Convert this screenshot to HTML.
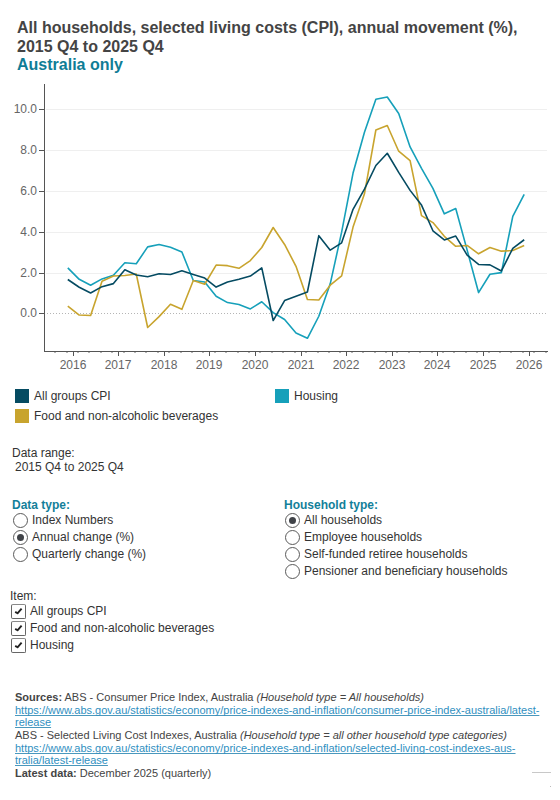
<!DOCTYPE html>
<html><head><meta charset="utf-8">
<style>
*{margin:0;padding:0;box-sizing:border-box}
html,body{width:560px;height:800px;background:#fff;overflow:hidden}
body{position:relative;font-family:"Liberation Sans",sans-serif;color:#333}
.a{position:absolute;white-space:nowrap}
.chart{position:absolute;left:0;top:0}
.t16{font-size:16px;line-height:18.2px;font-weight:bold}
.t12{font-size:12px;line-height:14px}
.t11{font-size:11px;line-height:12.66px}
.sw{position:absolute;width:14px;height:14px}
.rad{position:absolute;width:15px;height:15px;border:1.3px solid #5a5a5a;border-radius:50%;background:#fff}
.rad.on::after{content:"";position:absolute;left:2.7px;top:2.7px;width:7px;height:7px;border-radius:50%;background:#404348}
.cb{position:absolute;width:14.8px;height:14.3px;border:1.4px solid #666;border-top:1.8px solid #8a8a8a;border-radius:2px;background:#fff}
.cb svg{position:absolute;left:0;top:0}
.lnk{color:#2f8fbf;text-decoration:underline;text-decoration-skip-ink:none;text-decoration-color:#4a98bd;margin-left:-1px;padding-left:1px}
.teal{color:#137f9a;font-weight:bold}
</style></head><body>
<div class="a t16" style="left:17px;top:17.8px;line-height:19px;color:#444">All households, selected living costs (CPI), annual movement (%),<br>2015 Q4 to 2025 Q4</div>
<div class="a t16" style="left:17px;top:56px;color:#0f7d96">Australia only</div>
<svg class="chart" width="560" height="380" viewBox="0 0 560 380"><g class="ax" font-family="Liberation Sans, sans-serif" font-size="12" fill="#555"><rect x="46" y="273" width="501" height="1" fill="#efefef"/><rect x="46" y="232" width="501" height="1" fill="#efefef"/><rect x="46" y="191" width="501" height="1" fill="#efefef"/><rect x="46" y="150" width="501" height="1" fill="#efefef"/><rect x="46" y="109" width="501" height="1" fill="#efefef"/><line x1="47" y1="313.5" x2="547" y2="313.5" stroke="#b5b5b5" stroke-width="1" stroke-dasharray="1 2"/><rect x="44" y="84" width="1" height="268" fill="#555"/><rect x="39" y="313" width="5" height="1" fill="#555"/><text x="37" y="316.6" text-anchor="end" fill="#666">0.0</text><rect x="39" y="273" width="5" height="1" fill="#555"/><text x="37" y="276.6" text-anchor="end" fill="#666">2.0</text><rect x="39" y="232" width="5" height="1" fill="#555"/><text x="37" y="235.6" text-anchor="end" fill="#666">4.0</text><rect x="39" y="191" width="5" height="1" fill="#555"/><text x="37" y="194.6" text-anchor="end" fill="#666">6.0</text><rect x="39" y="150" width="5" height="1" fill="#555"/><text x="37" y="153.6" text-anchor="end" fill="#666">8.0</text><rect x="39" y="109" width="5" height="1" fill="#555"/><text x="37" y="112.6" text-anchor="end" fill="#666">10.0</text><rect x="44" y="351" width="504" height="1" fill="#555"/><rect x="73" y="352" width="1" height="4" fill="#555"/><text x="73.0" y="369" text-anchor="middle" fill="#666">2016</text><rect x="118" y="352" width="1" height="4" fill="#555"/><text x="118.0" y="369" text-anchor="middle" fill="#666">2017</text><rect x="164" y="352" width="1" height="4" fill="#555"/><text x="164.0" y="369" text-anchor="middle" fill="#666">2018</text><rect x="209" y="352" width="1" height="4" fill="#555"/><text x="209.0" y="369" text-anchor="middle" fill="#666">2019</text><rect x="255" y="352" width="1" height="4" fill="#555"/><text x="255.0" y="369" text-anchor="middle" fill="#666">2020</text><rect x="301" y="352" width="1" height="4" fill="#555"/><text x="301.0" y="369" text-anchor="middle" fill="#666">2021</text><rect x="346" y="352" width="1" height="4" fill="#555"/><text x="346.0" y="369" text-anchor="middle" fill="#666">2022</text><rect x="392" y="352" width="1" height="4" fill="#555"/><text x="392.0" y="369" text-anchor="middle" fill="#666">2023</text><rect x="437" y="352" width="1" height="4" fill="#555"/><text x="437.0" y="369" text-anchor="middle" fill="#666">2024</text><rect x="483" y="352" width="1" height="4" fill="#555"/><text x="483.0" y="369" text-anchor="middle" fill="#666">2025</text><rect x="529" y="352" width="1" height="4" fill="#555"/><text x="529.0" y="369" text-anchor="middle" fill="#666">2026</text><rect x="54" y="352" width="2" height="1" fill="#b4b4b4"/><rect x="66" y="352" width="2" height="1" fill="#b4b4b4"/><rect x="77" y="352" width="2" height="1" fill="#b4b4b4"/><rect x="88" y="352" width="2" height="1" fill="#b4b4b4"/><rect x="100" y="352" width="2" height="1" fill="#b4b4b4"/><rect x="111" y="352" width="2" height="1" fill="#b4b4b4"/><rect x="123" y="352" width="2" height="1" fill="#b4b4b4"/><rect x="134" y="352" width="2" height="1" fill="#b4b4b4"/><rect x="145" y="352" width="2" height="1" fill="#b4b4b4"/><rect x="157" y="352" width="2" height="1" fill="#b4b4b4"/><rect x="168" y="352" width="2" height="1" fill="#b4b4b4"/><rect x="180" y="352" width="2" height="1" fill="#b4b4b4"/><rect x="191" y="352" width="2" height="1" fill="#b4b4b4"/><rect x="202" y="352" width="2" height="1" fill="#b4b4b4"/><rect x="214" y="352" width="2" height="1" fill="#b4b4b4"/><rect x="225" y="352" width="2" height="1" fill="#b4b4b4"/><rect x="237" y="352" width="2" height="1" fill="#b4b4b4"/><rect x="248" y="352" width="2" height="1" fill="#b4b4b4"/><rect x="259" y="352" width="2" height="1" fill="#b4b4b4"/><rect x="271" y="352" width="2" height="1" fill="#b4b4b4"/><rect x="282" y="352" width="2" height="1" fill="#b4b4b4"/><rect x="294" y="352" width="2" height="1" fill="#b4b4b4"/><rect x="305" y="352" width="2" height="1" fill="#b4b4b4"/><rect x="317" y="352" width="2" height="1" fill="#b4b4b4"/><rect x="328" y="352" width="2" height="1" fill="#b4b4b4"/><rect x="339" y="352" width="2" height="1" fill="#b4b4b4"/><rect x="351" y="352" width="2" height="1" fill="#b4b4b4"/><rect x="362" y="352" width="2" height="1" fill="#b4b4b4"/><rect x="374" y="352" width="2" height="1" fill="#b4b4b4"/><rect x="385" y="352" width="2" height="1" fill="#b4b4b4"/><rect x="396" y="352" width="2" height="1" fill="#b4b4b4"/><rect x="408" y="352" width="2" height="1" fill="#b4b4b4"/><rect x="419" y="352" width="2" height="1" fill="#b4b4b4"/><rect x="431" y="352" width="2" height="1" fill="#b4b4b4"/><rect x="442" y="352" width="2" height="1" fill="#b4b4b4"/><rect x="453" y="352" width="2" height="1" fill="#b4b4b4"/><rect x="465" y="352" width="2" height="1" fill="#b4b4b4"/><rect x="476" y="352" width="2" height="1" fill="#b4b4b4"/><rect x="488" y="352" width="2" height="1" fill="#b4b4b4"/><rect x="499" y="352" width="2" height="1" fill="#b4b4b4"/><rect x="510" y="352" width="2" height="1" fill="#b4b4b4"/><rect x="522" y="352" width="2" height="1" fill="#b4b4b4"/><rect x="533" y="352" width="2" height="1" fill="#b4b4b4"/><rect x="545" y="352" width="2" height="1" fill="#b4b4b4"/></g><g fill="none" stroke-width="1.6" stroke-linejoin="round" stroke-linecap="butt"><path d="M67.80,267.90 L79.21,279.32 L90.62,285.24 L102.03,278.92 L113.44,275.24 L124.85,262.80 L136.26,263.82 L147.67,246.89 L159.08,244.44 L170.49,247.30 L181.90,251.99 L193.31,280.55 L204.72,281.98 L216.13,296.26 L227.54,302.58 L238.95,304.42 L250.36,308.90 L261.77,301.76 L273.18,312.58 L284.59,319.51 L296.00,332.98 L307.41,338.28 L318.82,316.25 L330.23,283.81 L341.64,232.20 L353.05,173.04 L364.46,132.24 L375.87,99.19 L387.28,96.95 L398.69,113.47 L410.10,146.93 L421.51,168.35 L432.92,188.34 L444.33,213.84 L455.74,208.54 L467.15,250.15 L478.56,292.58 L489.97,274.22 L501.38,272.59 L512.79,216.29 L524.20,194.26" stroke="#16a0ba"/><path d="M67.80,306.05 L79.21,315.02 L90.62,315.43 L102.03,281.16 L113.44,276.06 L124.85,275.45 L136.26,274.02 L147.67,327.47 L159.08,316.66 L170.49,304.21 L181.90,309.31 L193.31,280.55 L204.72,284.22 L216.13,265.04 L227.54,265.66 L238.95,268.31 L250.36,260.56 L261.77,247.50 L273.18,227.51 L284.59,244.44 L296.00,266.27 L307.41,299.52 L318.82,299.93 L330.23,285.24 L341.64,275.86 L353.05,227.10 L364.46,193.85 L375.87,130.00 L387.28,125.51 L398.69,151.21 L410.10,160.60 L421.51,215.68 L432.92,222.61 L444.33,236.28 L455.74,246.28 L467.15,245.46 L478.56,253.82 L489.97,247.50 L501.38,251.17 L512.79,250.56 L524.20,245.46" stroke="#c8a42e"/><path d="M67.80,279.53 L79.21,287.28 L90.62,292.99 L102.03,286.67 L113.44,283.61 L124.85,269.74 L136.26,275.04 L147.67,276.67 L159.08,273.82 L170.49,274.43 L181.90,270.76 L193.31,274.43 L204.72,278.10 L216.13,287.08 L227.54,281.98 L238.95,279.32 L250.36,276.06 L261.77,267.90 L273.18,320.53 L284.59,300.54 L296.00,296.26 L307.41,291.97 L318.82,235.67 L330.23,250.15 L341.64,242.81 L353.05,209.35 L364.46,189.16 L375.87,165.49 L387.28,153.25 L398.69,172.43 L410.10,190.38 L421.51,205.07 L432.92,230.77 L444.33,239.95 L455.74,236.08 L467.15,255.05 L478.56,264.43 L489.97,264.84 L501.38,270.96 L512.79,248.32 L524.20,239.75" stroke="#054b62"/></g></svg>
<div class="sw" style="left:15px;top:389px;background:#054b62"></div>
<div class="a t12" style="left:34px;top:389.4px">All groups CPI</div>
<div class="sw" style="left:15px;top:409px;background:#c8a42e"></div>
<div class="a t12" style="left:34px;top:409px">Food and non-alcoholic beverages</div>
<div class="sw" style="left:275px;top:389px;background:#16a0ba"></div>
<div class="a t12" style="left:294px;top:389.2px">Housing</div>

<div class="a t12" style="left:12px;top:446px">Data range:</div>
<div class="a t12" style="left:15px;top:459.8px">2015 Q4 to 2025 Q4</div>

<div class="a t12 teal" style="left:12px;top:498.4px">Data type:</div>
<div class="rad" style="left:13.1px;top:513px"></div>
<div class="a t12" style="left:32px;top:513.3px">Index Numbers</div>
<div class="rad on" style="left:13.1px;top:530px"></div>
<div class="a t12" style="left:32px;top:530.4px">Annual change (%)</div>
<div class="rad" style="left:13.1px;top:547px"></div>
<div class="a t12" style="left:32px;top:547.4px">Quarterly change (%)</div>

<div class="a t12 teal" style="left:284px;top:498.4px">Household type:</div>
<div class="rad on" style="left:285.1px;top:513px"></div>
<div class="a t12" style="left:304px;top:513.4px">All households</div>
<div class="rad" style="left:285.1px;top:530px"></div>
<div class="a t12" style="left:304px;top:530.4px">Employee households</div>
<div class="rad" style="left:285.1px;top:547px"></div>
<div class="a t12" style="left:304px;top:547.4px">Self-funded retiree households</div>
<div class="rad" style="left:285.1px;top:564px"></div>
<div class="a t12" style="left:304px;top:564.4px">Pensioner and beneficiary households</div>

<div class="a t12" style="left:10px;top:589.4px">Item:</div>
<div class="cb" style="left:11.2px;top:604.4px"><svg width="12" height="12" viewBox="0 0 12 12"><path d="M3.2 6.9 L5.5 8.3 L9.6 3.6" fill="none" stroke="#222" stroke-width="1.9" stroke-linejoin="round"/></svg></div>
<div class="a t12" style="left:30px;top:604.4px">All groups CPI</div>
<div class="cb" style="left:11.2px;top:621.4px"><svg width="12" height="12" viewBox="0 0 12 12"><path d="M3.2 6.9 L5.5 8.3 L9.6 3.6" fill="none" stroke="#222" stroke-width="1.9" stroke-linejoin="round"/></svg></div>
<div class="a t12" style="left:30px;top:621.4px">Food and non-alcoholic beverages</div>
<div class="cb" style="left:11.2px;top:638.4px"><svg width="12" height="12" viewBox="0 0 12 12"><path d="M3.2 6.9 L5.5 8.3 L9.6 3.6" fill="none" stroke="#222" stroke-width="1.9" stroke-linejoin="round"/></svg></div>
<div class="a t12" style="left:30px;top:638.4px">Housing</div>

<div class="a t11" style="left:15px;top:691px;color:#444"><b>Sources:</b> ABS - Consumer Price Index, Australia <i>(Household type = All households)</i><br><span class="lnk">https://www.abs.gov.au/statistics/economy/price-indexes-and-inflation/consumer-price-index-australia/latest-</span><br><span class="lnk">release</span><br>ABS - Selected Living Cost Indexes, Australia <i>(Household type = all other household type categories)</i><br><span class="lnk">https://www.abs.gov.au/statistics/economy/price-indexes-and-inflation/selected-living-cost-indexes-aus-</span><br><span class="lnk">tralia/latest-release</span><br><b>Latest data:</b> December 2025 (quarterly)</div>

<div style="position:absolute;left:532px;top:772px;width:19px;height:1px;background:#c8c8c8"></div>
<div style="position:absolute;left:550px;top:786px;width:1px;height:1px;background:#bbb"></div>
</body></html>
